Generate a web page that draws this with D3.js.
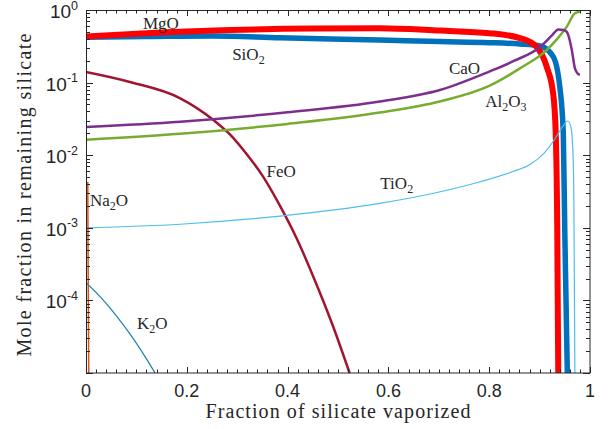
<!DOCTYPE html>
<html>
<head>
<meta charset="utf-8">
<script src="https://cdn.jsdelivr.net/npm/d3@7"></script>
<style>
  html, body { margin: 0; padding: 0; background: #fff; }
  svg { display: block; }
  .lbl { font-family: "Liberation Serif", "DejaVu Serif", serif; fill: #262626; }
  .num { font-family: "Liberation Sans", Arial, sans-serif; fill: #262626; }
</style>
</head>
<body>
<svg id="chart" width="610" height="429"></svg>
<script>
// Mole fractions of each oxide left in the silicate melt vs. fraction vaporized
const mgoX   = [0, 0.12, 0.286, 0.45, 0.583, 0.702, 0.80, 0.861, 0.894, 0.914, 0.927, 0.932, 0.935, 0.937];
const mgoY   = [0.43, 0.48, 0.53, 0.555, 0.56, 0.52, 0.48, 0.41, 0.31, 0.166, 0.07, 0.02, 0.001, 1e-5];

const sio2X  = [0, 0.12, 0.25, 0.385, 0.583, 0.702, 0.80, 0.861, 0.901, 0.927, 0.940, 0.947, 0.950, 0.955];
const sio2Y  = [0.42, 0.43, 0.44, 0.415, 0.386, 0.367, 0.355, 0.34, 0.32, 0.228, 0.088, 0.02, 8.6e-4, 1e-5];

const feoX   = [0, 0.087, 0.187, 0.253, 0.286, 0.319, 0.352, 0.385, 0.419, 0.450, 0.490, 0.523];
const feoY   = [0.14, 0.102, 0.0608, 0.0305, 0.0192, 0.0103, 0.00499, 0.0020, 6.9e-4, 2.21e-4, 4.44e-5, 1e-5];

const caoX   = [0, 0.187, 0.40, 0.583, 0.702, 0.80, 0.85, 0.901, 0.925, 0.937, 0.947, 0.954, 0.964, 0.970, 0.975, 0.98];
const caoY   = [0.0245, 0.029, 0.039, 0.0548, 0.079, 0.142, 0.2, 0.31, 0.45, 0.54, 0.53, 0.50, 0.28, 0.158, 0.135, 0.128];

const al2o3X = [0, 0.187, 0.40, 0.583, 0.702, 0.80, 0.861, 0.914, 0.935, 0.954, 0.970, 0.98];
const al2o3Y = [0.0163, 0.0197, 0.027, 0.0387, 0.055, 0.09, 0.157, 0.28, 0.40, 0.59, 0.9, 0.95];

const tio2X  = [0, 0.187, 0.385, 0.583, 0.683, 0.782, 0.847, 0.881, 0.909, 0.929, 0.944, 0.956, 0.962, 0.966, 0.968, 0.970];
const tio2Y  = [0.001, 0.00112, 0.00145, 0.00217, 0.00292, 0.00431, 0.00596, 0.00744, 0.0107, 0.0162, 0.0237, 0.0296, 0.0247, 0.0118, 0.00242, 1e-5];

const na2oX  = [0.0035, 0.004, 0.0047, 0.0055];
const na2oY  = [0.0043, 6e-4, 8e-5, 1e-5];

const k2oX   = [0, 0.0298, 0.0595, 0.0893, 0.119, 0.137];
const k2oY   = [1.75e-4, 1.09e-4, 6.24e-5, 3.29e-5, 1.6e-5, 1e-5];

const xTicks = [0, 0.2, 0.4, 0.6, 0.8, 1];
const xTickLabels = ["0", "0.2", "0.4", "0.6", "0.8", "1"];
const yExponents = [-4, -3, -2, -1, 0];

const series = [
  { x: sio2X,  y: sio2Y,  color: "#0072BD", width: 5.5 },
  { x: mgoX,   y: mgoY,   color: "#FF0000", width: 6 },
  { x: feoX,   y: feoY,   color: "#A2142F", width: 2.5 },
  { x: al2o3X, y: al2o3Y, color: "#77AC30", width: 2.5 },
  { x: caoX,   y: caoY,   color: "#7E2F8E", width: 2.5 },
  { x: tio2X,  y: tio2Y,  color: "#4DBEEE", width: 1.2 },
  { x: na2oX,  y: na2oY,  color: "#D95319", width: 1.5 },
  { x: k2oX,   y: k2oY,   color: "#1F80A8", width: 1.2 }
];

// Curve labels; each part is [text, isSubscript]
const labels = [
  { parts: [["MgO", false]], x: 0.113, y: 0.54 },
  { parts: [["SiO", false], ["2", true]], x: 0.29, y: 0.205 },
  { parts: [["CaO", false]], x: 0.72, y: 0.131 },
  { parts: [["Al", false], ["2", true], ["O", false], ["3", true]], x: 0.792, y: 0.046 },
  { parts: [["FeO", false]], x: 0.358, y: 0.005 },
  { parts: [["TiO", false], ["2", true]], x: 0.584, y: 0.0034 },
  { parts: [["Na", false], ["2", true], ["O", false]], x: 0.008, y: 0.002 },
  { parts: [["K", false], ["2", true], ["O", false]], x: 0.101, y: 4.0e-5 }
];

const W = 610, H = 429;
const margin = { left: 86, top: 10, right: 20, bottom: 56 };
const iw = W - margin.left - margin.right;
const ih = H - margin.top - margin.bottom;

const svg = d3.select("#chart");
const g = svg.append("g").attr("transform", `translate(${margin.left},${margin.top})`);

const x = d3.scaleLinear().domain([0, 1]).range([0, iw]);
const y = d3.scaleLog().domain([1e-5, 1]).range([ih, 0]);

svg.append("defs").append("clipPath").attr("id", "plotClip")
  .append("rect").attr("x", 0).attr("y", 0).attr("width", iw).attr("height", ih);

// Curves
const line = d3.line()
  .x(d => x(d[0]))
  .y(d => y(d[1]))
  .curve(d3.curveMonotoneX);

const curves = g.append("g").attr("clip-path", "url(#plotClip)");
series.forEach(s => {
  const pts = s.x.map((v, i) => [v, s.y[i]]);
  curves.append("path")
    .datum(pts)
    .attr("d", line)
    .attr("fill", "none")
    .attr("stroke", s.color)
    .attr("stroke-width", s.width)
    .attr("stroke-linejoin", "round");
});

// Axis box and inward ticks on all four sides, built as one path
const axisColor = "#262626";
const px = v => Math.round(v) + 0.5;
const tickPath = d3.path();

const xMinor = d3.range(0, 51).map(i => i / 50);
const isMajorX = v => xTicks.some(t => Math.abs(t - v) < 1e-9);
xMinor.forEach(v => {
  const len = isMajorX(v) ? 6 : 3.5;
  const xx = px(x(v));
  tickPath.moveTo(xx, ih); tickPath.lineTo(xx, ih - len);
  tickPath.moveTo(xx, 0);  tickPath.lineTo(xx, len);
});

const yAll = [];
for (let e = -5; e < 0; e++) for (let m = 1; m <= 9; m++) yAll.push([m * Math.pow(10, e), m === 1]);
yAll.push([1, true]);
yAll.forEach(([v, major]) => {
  const len = major ? 7 : 4;
  const yy = px(y(v));
  tickPath.moveTo(0, yy);  tickPath.lineTo(len, yy);
  tickPath.moveTo(iw, yy); tickPath.lineTo(iw - len, yy);
});

g.append("path")
  .attr("d", tickPath.toString())
  .attr("fill", "none")
  .attr("stroke", axisColor)
  .attr("stroke-width", 1);

g.append("rect")
  .attr("x", 0.5).attr("y", 0.5).attr("width", iw - 0.5).attr("height", ih - 0.5)
  .attr("fill", "none").attr("stroke", axisColor).attr("stroke-width", 1);

// x tick labels
g.append("g").selectAll("text").data(xTicks).join("text")
  .attr("class", "num")
  .attr("x", d => x(d))
  .attr("y", ih + 24)
  .attr("text-anchor", "middle")
  .attr("font-size", 18)
  .text((d, i) => xTickLabels[i]);

// y tick labels as powers of ten
yExponents.forEach(e => {
  const t = g.append("text").attr("class", "num")
    .attr("x", -8)
    .attr("y", y(Math.pow(10, e)) + 8)
    .attr("text-anchor", "end")
    .attr("font-size", 19);
  t.append("tspan").text("10");
  t.append("tspan").attr("font-size", 12.5).attr("dy", -8.5).text(String(e));
});

// Curve labels with subscripts
labels.forEach(l => {
  const t = g.append("text").attr("class", "lbl")
    .attr("x", x(l.x)).attr("y", y(l.y))
    .attr("font-size", 17);
  let sub = false;
  l.parts.forEach(([txt, isSub]) => {
    const sp = t.append("tspan").text(txt);
    if (isSub) {
      sp.attr("font-size", 12);
      if (!sub) sp.attr("dy", 4);
      sub = true;
    } else if (sub) {
      sp.attr("dy", -4);
      sub = false;
    }
  });
});

// Axis titles
g.append("text").attr("class", "lbl")
  .attr("x", iw / 2).attr("y", ih + 45)
  .attr("text-anchor", "middle").attr("font-size", 20)
  .attr("fill", "#333")
  .attr("textLength", 265).attr("lengthAdjust", "spacing")
  .text("Fraction of silicate vaporized");

g.append("text").attr("class", "lbl")
  .attr("transform", `translate(${-55},${185}) rotate(-90)`)
  .attr("text-anchor", "middle").attr("font-size", 20)
  .attr("fill", "#333")
  .attr("textLength", 323).attr("lengthAdjust", "spacing")
  .text("Mole fraction in remaining silicate");
</script>
</body>
</html>
